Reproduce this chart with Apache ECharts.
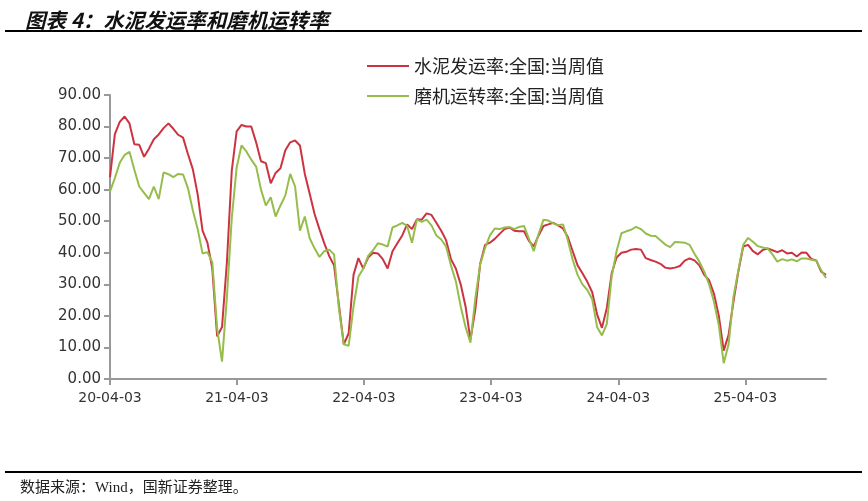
<!DOCTYPE html>
<html lang="zh">
  <head>
    <meta charset="UTF-8" />
    <title>水泥发运率和磨机运转率</title>
    <script src="https://cdn.jsdelivr.net/npm/echarts@6/dist/echarts.min.js"></script>
    <style>
      html, body { margin: 0; padding: 0; background: #fff; }
      #main { width: 868px; height: 501px; }
    </style>
  </head>
  <body>
    <div id="main"></div>
    <script>
      // x values are days since 2020-04-03, one reading every two weeks
      const stepDays = 14
      const tickDays = [0, 365, 730, 1095, 1461, 1826]
      const tickLabels = ['20-04-03', '21-04-03', '22-04-03', '23-04-03', '24-04-03', '25-04-03']

      const seriesNames = ['水泥发运率:全国:当周值', '磨机运转率:全国:当周值']

      const shipRate = [
        64, 77.6, 81.5, 83.2, 81, 74.4, 74.2, 70.4, 73, 76, 77.5, 79.5, 81, 79.3, 77.4, 76.5,
        71.3, 66.5, 58.5, 47, 43.2, 35, 13.5, 16.5, 37, 66,
        78.5, 80.5, 80, 80, 75, 69, 68.4, 62, 65.3, 66.8, 72.5, 75, 75.6, 74, 65, 58.7,
        52.3, 47.5, 43, 39, 36, 23.5, 11, 14.5, 33, 38.3,
        35, 38.5, 40, 39.8, 38, 35, 40.5, 43, 45.5, 49, 47.5, 50.6, 50.5, 52.5, 52, 49.5,
        47, 44, 38, 35, 30, 23, 12.5, 22, 36.5, 42.5,
        43.2, 44.4, 46, 47.5, 48, 47, 46.8, 46.8, 43.8, 42, 45.5, 48.5, 49, 49.5, 48.7, 47.7,
        45, 40.5, 36, 33.5, 30.8, 27.5, 20.5, 16.2, 22.5, 33.5,
        38.5, 40, 40.3, 41, 41.2, 41, 38.3, 37.7, 37.2, 36.5, 35.3, 35, 35.3, 35.8, 37.5, 38.2,
        37.6, 36, 33, 31.3, 27, 20, 9, 14, 24.5, 34,
        42, 42.5, 40.5, 39.5, 40.9, 41.4, 40.8, 40.2, 40.8, 39.8, 40, 38.8, 40.1, 40, 38, 37.6,
        34, 33
      ]

      const millRate = [
        59.4, 63.7, 68.5, 71, 72, 66.3, 61, 59, 57, 61, 57, 65.5, 64.9, 64, 65, 64.8,
        60.5, 53.5, 47.5, 39.8, 40.2, 37, 16, 5.5, 26, 51,
        67, 74, 72.1, 69.5, 67.3, 60, 55, 57.6, 51.5, 55, 58.2, 65, 61, 47, 51.5, 44.6,
        41.4, 38.7, 40.5, 41, 39.5, 22.3, 11, 10.5, 23, 32.4,
        35, 39, 40.8, 43, 42.6, 42, 48, 48.7, 49.5, 48.5, 43.2, 50.5, 49.8, 50.5, 48.7, 45.5,
        44.2, 42, 36, 31, 23, 16.5, 11.5, 25.5, 36.3, 41.5,
        45.5, 47.7, 47.5, 48, 48.2, 47.5, 48.2, 48.5, 44.5, 40.5, 46, 50.5, 50.2, 49.3, 48.7, 49,
        44, 37.8, 33, 30, 28.2, 25.3, 16.5, 13.8, 17.5, 32.5,
        40.5, 46.2, 46.8, 47.3, 48.2, 47.5, 46.1, 45.4, 45.3, 44, 42.6, 41.8, 43.4, 43.3, 43.2, 42.5,
        39.7, 37.2, 34, 30, 24.5, 17, 5, 11, 26, 34.5,
        42.5, 44.7, 43.5, 42.1, 41.7, 41.4, 39.5, 37.2, 38, 37.5, 37.9, 37.3, 38.2, 38.2, 37.8, 37.5,
        34.5, 32
      ]

      const toPairs = vals => vals.map((v, i) => [i * stepDays, v])
      const lastDay = (shipRate.length - 1) * stepDays

      const chart = echarts.init(document.getElementById('main'))
      chart.setOption({
        animation: false,
        backgroundColor: '#fff',
        title: [
          {
            text: '图表 4：水泥发运率和磨机运转率',
            left: 20,
            top: 5,
            textStyle: {
              fontFamily: 'Noto Sans CJK SC',
              fontStyle: 'italic',
              fontWeight: 'bold',
              fontSize: 20.5,
              color: '#111'
            }
          },
          {
            text: '数据来源：Wind，国新证券整理。',
            left: 15,
            top: 476,
            textStyle: {
              fontFamily: 'Liberation Serif, Noto Sans CJK SC',
              fontWeight: 'normal',
              fontSize: 15,
              color: '#222'
            }
          }
        ],
        graphic: [
          { type: 'rect', shape: { x: 5, y: 30, width: 857, height: 2 }, style: { fill: '#000' } },
          { type: 'rect', shape: { x: 5, y: 471, width: 857, height: 2 }, style: { fill: '#000' } }
        ],
        legend: {
          orient: 'vertical',
          left: 362,
          top: 52,
          itemWidth: 42,
          itemHeight: 14,
          itemGap: 12,
          icon: 'path://M0,6 L42,6 L42,8 L0,8 Z',
          textStyle: { fontFamily: 'Noto Sans CJK SC', fontSize: 18, color: '#222' },
          data: seriesNames
        },
        grid: { left: 110, right: 42, top: 95, bottom: 122 },
        xAxis: {
          type: 'value',
          min: 0,
          max: lastDay,
          axisLine: { lineStyle: { color: '#999', width: 2 } },
          axisTick: { show: true, length: 6, customValues: tickDays, lineStyle: { color: '#999', width: 2 } },
          splitLine: { show: false },
          axisLabel: {
            customValues: tickDays,
            margin: 12,
            fontFamily: 'DejaVu Sans',
            fontSize: 14,
            color: '#333',
            formatter: v => tickLabels[tickDays.indexOf(v)] || ''
          }
        },
        yAxis: {
          type: 'value',
          min: 0,
          max: 90,
          interval: 10,
          axisLine: { show: true, lineStyle: { color: '#999', width: 2 } },
          axisTick: { show: true, length: 6, lineStyle: { color: '#999', width: 2 } },
          splitLine: { show: false },
          axisLabel: {
            margin: 9,
            fontFamily: 'DejaVu Sans',
            fontSize: 15,
            color: '#333',
            formatter: v => v.toFixed(2)
          }
        },
        series: [
          {
            name: seriesNames[0],
            type: 'line',
            symbol: 'none',
            z: 2,
            lineStyle: { color: '#CC3340', width: 2 },
            itemStyle: { color: '#CC3340' },
            data: toPairs(shipRate)
          },
          {
            name: seriesNames[1],
            type: 'line',
            symbol: 'none',
            z: 3,
            lineStyle: { color: '#96BD4C', width: 2 },
            itemStyle: { color: '#96BD4C' },
            data: toPairs(millRate)
          }
        ]
      })
    </script>
  </body>
</html>
